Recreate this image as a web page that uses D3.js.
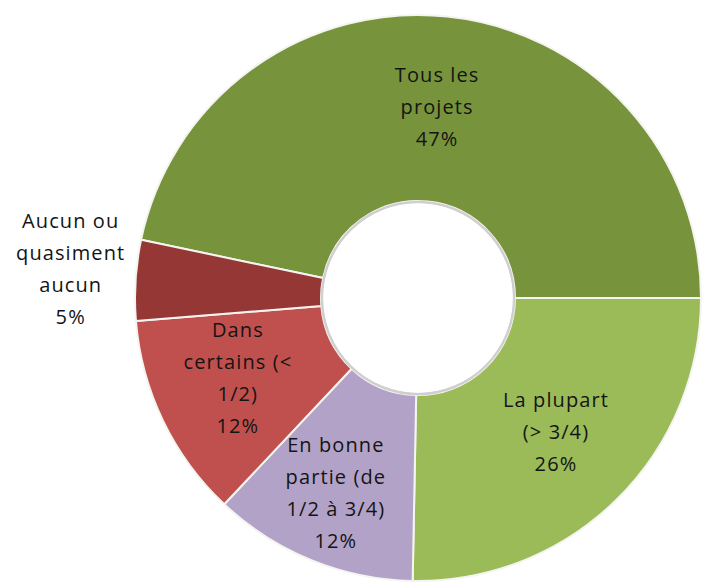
<!DOCTYPE html>
<html>
<head>
<meta charset="utf-8">
<script src="https://cdn.jsdelivr.net/npm/d3@7"></script>
<style>
  body { margin: 0; background: #fff; }
  svg { display: block; }
</style>
</head>
<body>
<svg></svg>
<script>
// slices, clockwise, starting with the big one
const categories = [
  ["Tous les", "projets"],
  ["La plupart", "(> 3/4)"],
  ["En bonne", "partie (de", "1/2 à 3/4)"],
  ["Dans", "certains (<", "1/2)"],
  ["Aucun ou", "quasiment", "aucun"]
];
const shares = [46.7, 25.3, 11.7, 11.7, 4.6];
const pctLabels = ["47%", "26%", "12%", "12%", "5%"];
const colors = ["#77933c", "#9bbb59", "#b3a2c7", "#c0504d", "#953735"];

const width = 702, height = 585;
const cx = 418, cy = 298;
const outerR = 283, innerR = 97;
const labelR = [185, 197, 218, 200, 348];
const lineH = 32;

const svg = d3.select("svg")
  .attr("width", width)
  .attr("height", height)
  .attr("viewBox", [0, 0, width, height]);

const total = d3.sum(shares);
// first slice ends exactly at 3 o'clock
const start = Math.PI / 2 - (shares[0] / total) * 2 * Math.PI;

const pie = d3.pie()
  .sort(null)
  .value(d => d)
  .startAngle(start)
  .endAngle(start + 2 * Math.PI);

const arcs = pie(shares);

const arc = d3.arc().innerRadius(innerR).outerRadius(outerR);

const g = svg.append("g").attr("transform", `translate(${cx},${cy})`);

g.selectAll("path.slice")
  .data(arcs)
  .join("path")
  .attr("class", "slice")
  .attr("d", arc)
  .attr("fill", (d, i) => colors[i])
  .attr("stroke", "#f4f4f0")
  .attr("stroke-width", 2)
  .attr("stroke-linejoin", "round");

// soft rim round the hole
g.append("circle")
  .attr("r", innerR - 1)
  .attr("fill", "none")
  .attr("stroke", "#cfcfcf")
  .attr("stroke-width", 2.5);
g.append("circle")
  .attr("r", innerR - 2.5)
  .attr("fill", "#fff");

const labels = g.selectAll("text.lbl")
  .data(arcs)
  .join("text")
  .attr("class", "lbl")
  .attr("text-anchor", "middle")
  .style("font-family", "'Open Sans', 'DejaVu Sans', sans-serif")
  .style("font-size", "20px")
  .style("font-weight", 500)
  .style("letter-spacing", "1.1px")
  .attr("fill", "#141414");

labels.each(function(d, i) {
  const r = labelR[i];
  const [x, y] = d3.arc().innerRadius(r).outerRadius(r).centroid(d);
  const lines = categories[i].concat([pctLabels[i]]);
  const y0 = y - (lines.length - 1) * lineH / 2;
  d3.select(this).selectAll("tspan")
    .data(lines)
    .join("tspan")
    .attr("x", x)
    .attr("y", (t, j) => y0 + j * lineH)
    .text(t => t);
});
</script>
</body>
</html>
